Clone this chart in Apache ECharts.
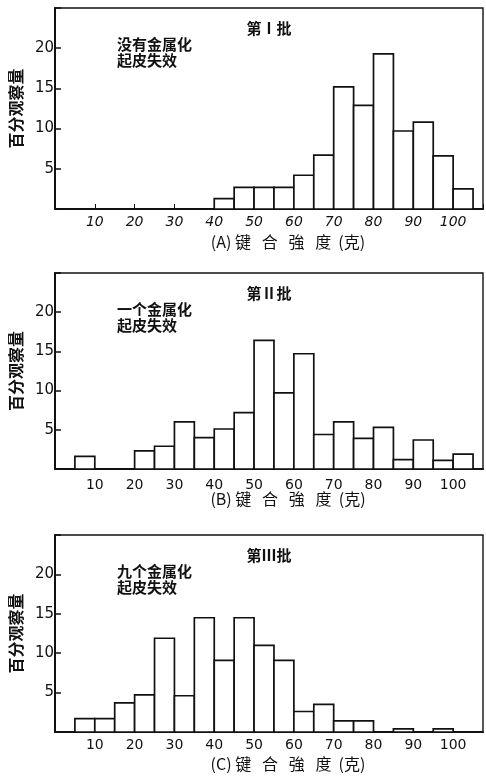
<!DOCTYPE html>
<html><head><meta charset="utf-8">
<script src="https://cdn.jsdelivr.net/npm/echarts@6/dist/echarts.min.js"></script>
<style>html,body{margin:0;padding:0;background:#fff}#c{width:486px;height:777px}</style>
</head><body><div id="c"></div>
<script>
var binWidth = 5;
var xTicks = [10, 20, 30, 40, 50, 60, 70, 80, 90, 100];
var yTicks = [5, 10, 15, 20];

var startsA = [40, 45, 50, 55, 60, 65, 70, 75, 80, 85, 90, 95, 100];
var valuesA = [1.3, 2.7, 2.7, 2.7, 4.2, 6.7, 15.2, 12.9, 19.3, 9.7, 10.8, 6.6, 2.5];

var startsB = [5, 20, 25, 30, 35, 40, 45, 50, 55, 60, 65, 70, 75, 80, 85, 90, 95, 100];
var valuesB = [1.6, 2.3, 2.9, 6.0, 4.0, 5.1, 7.2, 16.4, 9.7, 14.7, 4.4, 6.0, 3.9, 5.3, 1.2, 3.7, 1.1, 1.9];

var startsC = [5, 10, 15, 20, 25, 30, 35, 40, 45, 50, 55, 60, 65, 70, 75, 85, 95];
var valuesC = [1.7, 1.7, 3.7, 4.7, 11.9, 4.6, 14.5, 9.1, 14.5, 11.0, 9.1, 2.6, 3.5, 1.4, 1.4, 0.4, 0.4];

var panelTitles = ['第Ⅰ批', '第Ⅱ批', '第Ⅲ批'];
var panelNotes = [['没有金属化', '起皮失效'], ['一个金属化', '起皮失效'], ['九个金属化', '起皮失效']];
var xNames = ['(A) 键   合   強   度  (克)', '(B) 键   合   強   度  (克)', '(C) 键   合   強   度  (克)'];
var yName = '百分观察量';

var CJK = '"Noto Sans CJK SC", sans-serif';
var NUM = '"DejaVu Sans", sans-serif';

var grids = [
  {left: 52, right: 2, top: 8, height: 201},
  {left: 49, right: 3, top: 273, height: 196},
  {left: 47, right: 3, top: 535, height: 197}
];
var labelMargins = [6, 9, 6];
var xNameY = [242, 499, 764];

function toData(starts, vals) {
  return starts.map(function (s, i) { return [s, s + binWidth, vals[i]]; });
}
var datasets = [toData(startsA, valuesA), toData(startsB, valuesB), toData(startsC, valuesC)];

function renderItem(params, api) {
  var p0 = api.coord([api.value(0), 0]);
  var p1 = api.coord([api.value(1), api.value(2)]);
  return {
    type: 'rect',
    shape: {x: p0[0], y: p1[1], width: p1[0] - p0[0], height: p0[1] - p1[1]},
    style: {fill: '#fff', stroke: '#111', lineWidth: 1.7}
  };
}

var xAxes = [], yAxes = [], series = [], titles = [], graphics = [];
grids.forEach(function (g, i) {
  g.show = true; g.borderColor = '#111'; g.borderWidth = 1.4; g.backgroundColor = '#fff';
  xAxes.push({
    type: 'value', gridIndex: i, min: 0, max: 107.5, interval: 10,
    splitLine: {show: false},
    axisLine: {show: true, onZero: false, lineStyle: {color: '#111', width: 2}},
    axisTick: {show: i === 0, inside: true, length: 5, lineStyle: {color: '#111'}},
    axisLabel: {
      margin: labelMargins[i], color: '#111', fontFamily: NUM, fontSize: 14,
      fontStyle: i === 0 ? 'italic' : 'normal',
      formatter: function (v) { return xTicks.indexOf(v) >= 0 ? String(v) : ''; }
    }
  });
  yAxes.push({
    type: 'value', gridIndex: i, min: 0, max: 25, interval: 5,
    splitLine: {show: false},
    axisLine: {show: true, lineStyle: {color: '#111', width: 2}},
    axisTick: {show: true, inside: true, length: 6, lineStyle: {color: '#111', width: 1.5}},
    axisLabel: {
      margin: 1, color: '#111', fontFamily: NUM, fontSize: 15,
      formatter: function (v) { return yTicks.indexOf(v) >= 0 ? String(v) : ''; }
    },
    name: yName, nameLocation: 'middle', nameGap: 28, nameRotate: 90,
    nameTextStyle: {color: '#111', fontFamily: CJK, fontSize: 16, fontWeight: 'bold'}
  });
  series.push({
    type: 'custom', xAxisIndex: i, yAxisIndex: i, renderItem: renderItem,
    encode: {x: [0, 1], y: 2}, data: datasets[i], silent: true
  });
  titles.push({
    text: panelTitles[i], left: 264, top: g.top + 8, textAlign: 'center',
    textStyle: {color: '#111', fontFamily: CJK, fontSize: 15, fontWeight: 'bold'}
  });
  graphics.push({
    type: 'text', left: 117, top: g.top + 28,
    style: {text: panelNotes[i].join('\n'), fill: '#111', font: 'bold 15px ' + CJK, lineHeight: 16}
  });
  graphics.push({
    type: 'text', x: 288, y: xNameY[i],
    style: {text: xNames[i], fill: '#111', font: '16px ' + CJK, align: 'center', verticalAlign: 'middle'}
  });
});

var chart = echarts.init(document.getElementById('c'));
chart.setOption({
  animation: false,
  backgroundColor: '#fff',
  title: titles,
  grid: grids,
  xAxis: xAxes,
  yAxis: yAxes,
  series: series,
  graphic: graphics
});
</script></body></html>
